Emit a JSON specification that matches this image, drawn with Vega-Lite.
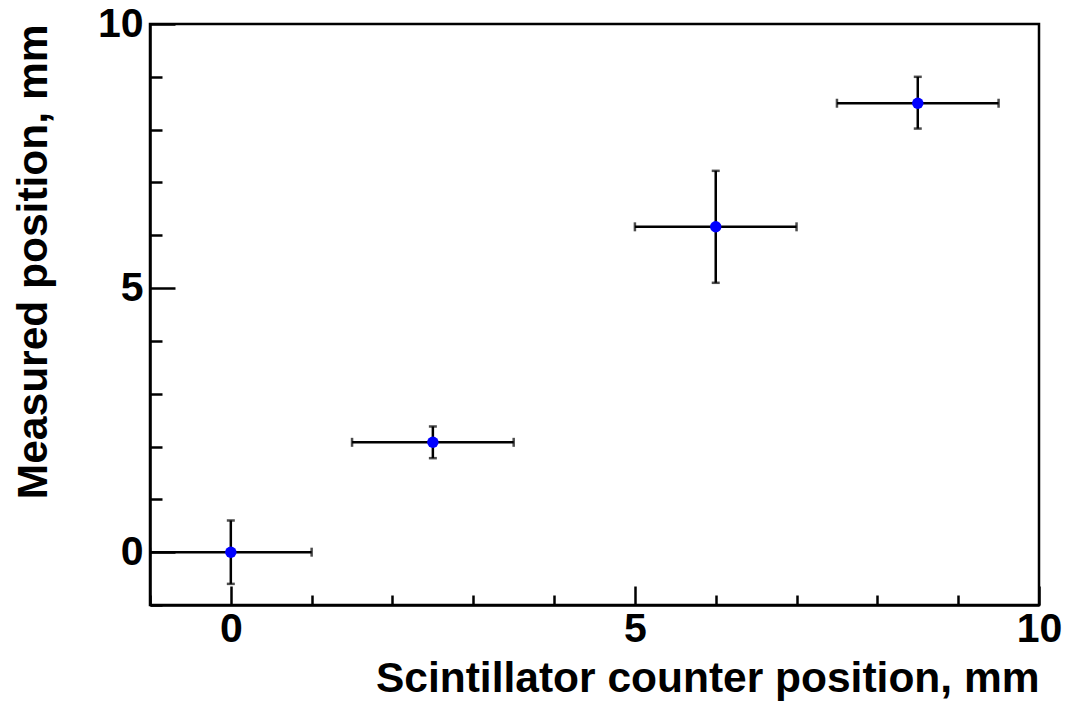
{
  "$schema": "https://vega.github.io/schema/vega-lite/v6.json",
  "width": 889,
  "height": 581,
  "autosize": {"type": "none"},
  "padding": {"left": 150, "top": 24, "right": 30, "bottom": 100},
  "background": "white",
  "config": {
    "view": {"stroke": "black", "strokeWidth": 2.5},
    "font": "Liberation Sans",
    "axis": {
      "domainColor": "black",
      "domainWidth": 2.5,
      "tickColor": "black",
      "tickWidth": 2.5,
      "grid": false,
      "labelFont": "Liberation Sans",
      "labelFontWeight": "bold",
      "labelFontSize": 41,
      "labelColor": "black",
      "titleFont": "Liberation Sans",
      "titleFontWeight": "bold",
      "titleFontSize": 42.5,
      "titleColor": "black"
    }
  },
  "data": {
    "values": [
      {"x": 0, "y": 0, "xlo": -1, "xhi": 1, "ylo": -0.6, "yhi": 0.6},
      {"x": 2.5, "y": 2.08, "xlo": 1.5, "xhi": 3.5, "ylo": 1.78, "yhi": 2.38},
      {"x": 6, "y": 6.16, "xlo": 5, "xhi": 7, "ylo": 5.1, "yhi": 7.22},
      {"x": 8.5, "y": 8.5, "xlo": 7.5, "xhi": 9.5, "ylo": 8.02, "yhi": 9.0}
    ]
  },
  "layer": [
    {
      "mark": {"type": "rule", "color": "black", "strokeWidth": 2.5, "clip": true},
      "encoding": {
        "x": {
          "field": "xlo", "type": "quantitative",
          "scale": {"domain": [-1, 10], "nice": false, "zero": false},
          "axis": {
            "values": [-1, 0, 1, 2, 3, 4, 5, 6, 7, 8, 9, 10],
            "format": "d",
            "tickSize": {"condition": {"test": "datum.value % 5 === 0", "value": -19}, "value": -10},
            "labelExpr": "datum.value % 5 === 0 ? datum.label : ''",
            "labelPadding": 23,
            "labelFlush": false,
            "labelOverlap": false,
            "title": "Scintillator counter position, mm",
            "titleAnchor": "end",
            "titleAlign": "right",
            "titleX": 889,
            "titleY": 86,
            "titleBaseline": "alphabetic"
          }
        },
        "x2": {"field": "xhi"},
        "y": {
          "field": "y", "type": "quantitative",
          "scale": {"domain": [-1, 10], "nice": false, "zero": false},
          "axis": {
            "values": [-1, 0, 1, 2, 3, 4, 5, 6, 7, 8, 9, 10],
            "format": "d",
            "tickSize": {"condition": {"test": "datum.value % 5 === 0", "value": -25}, "value": -12},
            "labelExpr": "datum.value % 5 === 0 ? datum.label : ''",
            "labelPadding": 32,
            "labelFlush": false,
            "labelOverlap": false,
            "title": "Measured position, mm",
            "titleAnchor": "end",
            "titleAlign": "right",
            "titleAngle": 270,
            "titleX": -104,
            "titleY": 0,
            "titleBaseline": "alphabetic"
          }
        }
      }
    },
    {
      "mark": {"type": "rule", "color": "black", "strokeWidth": 2.5, "clip": true},
      "encoding": {
        "x": {"field": "x", "type": "quantitative"},
        "y": {"field": "ylo", "type": "quantitative"},
        "y2": {"field": "yhi"}
      }
    },
    {
      "mark": {"type": "tick", "orient": "vertical", "color": "black", "size": 9, "thickness": 2.5, "clip": true},
      "encoding": {
        "x": {"field": "xlo", "type": "quantitative"},
        "y": {"field": "y", "type": "quantitative"}
      }
    },
    {
      "mark": {"type": "tick", "orient": "vertical", "color": "black", "size": 9, "thickness": 2.5, "clip": true},
      "encoding": {
        "x": {"field": "xhi", "type": "quantitative"},
        "y": {"field": "y", "type": "quantitative"}
      }
    },
    {
      "mark": {"type": "tick", "orient": "horizontal", "color": "black", "size": 8, "thickness": 2.5, "clip": true},
      "encoding": {
        "x": {"field": "x", "type": "quantitative"},
        "y": {"field": "ylo", "type": "quantitative"}
      }
    },
    {
      "mark": {"type": "tick", "orient": "horizontal", "color": "black", "size": 8, "thickness": 2.5, "clip": true},
      "encoding": {
        "x": {"field": "x", "type": "quantitative"},
        "y": {"field": "yhi", "type": "quantitative"}
      }
    },
    {
      "mark": {"type": "circle", "color": "#0000ff", "opacity": 1, "size": 130, "clip": true},
      "encoding": {
        "x": {"field": "x", "type": "quantitative"},
        "y": {"field": "y", "type": "quantitative"}
      }
    }
  ]
}
